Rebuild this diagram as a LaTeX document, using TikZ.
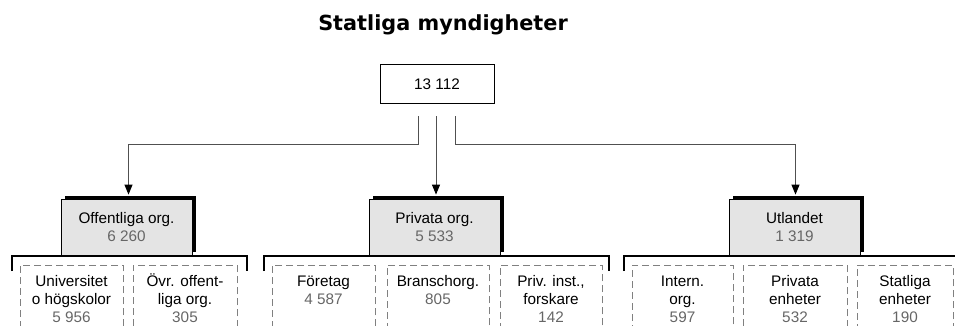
\documentclass[tikz,border=0pt]{standalone}
\usepackage{fontspec}
\setmainfont{Liberation Sans}
\newfontfamily\titlefont{DejaVu Sans}
\usetikzlibrary{arrows.meta,shadows,calc}
\definecolor{catgray}{HTML}{E4E4E4}
\definecolor{numgray}{HTML}{666666}
\definecolor{conngray}{HTML}{505050}
\definecolor{dashgray}{HTML}{808080}
\newcommand{\grayn}[1]{{\color{numgray}#1}}
\newcommand{\fst}{\rule{0pt}{14pt}}
\begin{document}
\begin{tikzpicture}[x=1pt,y=-1pt,
  txt/.style={font=\fontsize{15.3}{18}\selectfont, align=center, inner sep=0pt},
  rootbox/.style={txt, draw=black, line width=1pt, minimum width=114pt, minimum height=39pt},
  catbox/.style={txt, draw=black, line width=0.8pt, fill=catgray, minimum width=131pt, minimum height=56pt,
    general shadow={fill=black, shadow xshift=3.5pt, shadow yshift=3pt}},
  leafbox/.style={draw=dashgray, line width=0.9pt, dash pattern=on 7pt off 4pt, minimum height=90pt, anchor=north, inner sep=0pt},
  leaftext/.style={txt, anchor=north},
  conn/.style={draw=conngray, line width=1pt, -{Triangle[length=10pt,width=8pt,color=black]}, shorten >=4pt},
  bracket/.style={draw=black, line width=1.6pt}
]
\useasboundingbox (0,0) rectangle (955,326);
\clip (0,0) rectangle (955,326);

\node[font=\titlefont\bfseries\fontsize{20.8}{24}\selectfont, anchor=base, inner sep=0pt] (title) at (443,31) {Statliga myndigheter};

\node[rootbox] (root) at (437,84.5) {13 112};

\node[catbox] (off) at (126.5,227) {Offentliga org.\\\grayn{6 260}};
\node[catbox] (priv) at (434.5,227) {Privata org.\\\grayn{5 533}};
\node[catbox] (utl) at (794.5,227) {Utlandet\\\grayn{1 319}};

% connectors
\coordinate (s1) at ($(root.south)+(-19,12)$);
\coordinate (s2) at ($(root.south)+(-1,12)$);
\coordinate (s3) at ($(root.south)+(18,12)$);
\draw[conn] (s1) -- ++(0,28) -| ($(off.north)+(2,0)$);
\draw[conn] (s2) -- (s2 |- priv.north);
\draw[conn] (s3) -- ++(0,28) -| ($(utl.north)+(1,0)$);

% brackets
\draw[bracket] (12,271) -- (12,256) -- (247,256) -- (247,271);
\draw[bracket] (264,271) -- (264,256) -- (609,256) -- (609,271);
\draw[bracket] (624,271) -- (624,256) -- (960,256);

% leaves
\node[leafbox, minimum width=103pt] (l1) at (71.5,265) {};
\node[leafbox, minimum width=104pt] (l2) at (185,265) {};
\node[leafbox, minimum width=103pt] (l3) at (323.5,265) {};
\node[leafbox, minimum width=102pt] (l4) at (438,265) {};
\node[leafbox, minimum width=102pt] (l5) at (551,265) {};
\node[leafbox, minimum width=101pt] (l6) at (682.5,265) {};
\node[leafbox, minimum width=104pt] (l7) at (795,265) {};
\node[leafbox, minimum width=96pt] (l8) at (905,265) {};

\node[leaftext] (t1) at ($(l1.north)+(0,7)$) {\fst Universitet\\o högskolor\\\grayn{5 956}};
\node[leaftext] (t2) at ($(l2.north)+(0,7)$) {\fst Övr. offent-\\liga org.\\\grayn{305}};
\node[leaftext] (t3) at ($(l3.north)+(0,7)$) {\fst Företag\\\grayn{4 587}};
\node[leaftext] (t4) at ($(l4.north)+(0,7)$) {\fst Branschorg.\\\grayn{805}};
\node[leaftext] (t5) at ($(l5.north)+(0,7)$) {\fst Priv. inst.,\\forskare\\\grayn{142}};
\node[leaftext] (t6) at ($(l6.north)+(0,7)$) {\fst Intern.\\org.\\\grayn{597}};
\node[leaftext] (t7) at ($(l7.north)+(0,7)$) {\fst Privata\\enheter\\\grayn{532}};
\node[leaftext] (t8) at ($(l8.north)+(0,7)$) {\fst Statliga\\enheter\\\grayn{190}};
\end{tikzpicture}
\end{document}
